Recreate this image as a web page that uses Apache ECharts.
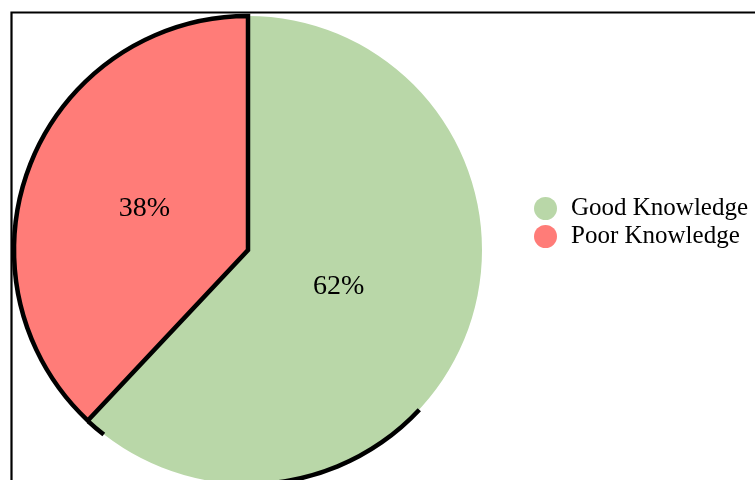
<!DOCTYPE html>
<html>
<head>
<meta charset="utf-8">
<script src="https://cdn.jsdelivr.net/npm/echarts@6/dist/echarts.min.js"></script>
<style>html,body{margin:0;padding:0;background:#fff}#c{width:755px;height:480px}</style>
</head>
<body>
<div id="c"></div>
<script>
const categories = ['Good Knowledge', 'Poor Knowledge'];
const percentages = [62, 38];
const sliceColors = ['#B9D7A8', '#FF7C78'];
// partial dark outline pieces along the rim, in degrees clockwise from the top
const outlineSegments = [133, 49, 36, 5, 137];
const outlineVisible = [false, true, false, true, false];
const labelOffsets = [[-21, -8], [8, 3]];

const chart = echarts.init(document.getElementById('c'));
const serif = '"Liberation Serif", "Times New Roman", serif';
chart.setOption({
  animation: false,
  graphic: [{
    type: 'rect', left: 9, top: 10, silent: true,
    shape: { width: 800, height: 520 },
    style: { fill: 'none', stroke: '#000', lineWidth: 2.2 }
  }],
  legend: {
    orient: 'vertical', left: 529, top: 191,
    itemWidth: 23, itemHeight: 23, itemGap: 3, icon: 'circle',
    data: categories,
    itemStyle: { borderWidth: 0 },
    textStyle: { fontFamily: serif, fontSize: 25, color: '#000', padding: [0, 0, 0, 9] }
  },
  series: [{
    type: 'pie',
    center: [248, 250], radius: [0, 234],
    startAngle: 90, clockwise: true,
    label: { show: true, position: 'inside', formatter: '{c}%', fontFamily: serif, fontSize: 28, color: '#000' },
    labelLine: { show: false },
    emphasis: { disabled: true },
    data: categories.map((n, i) => ({
      name: n, value: percentages[i],
      label: { offset: labelOffsets[i] },
      itemStyle: i === 1
        ? { color: sliceColors[i], borderColor: '#000', borderWidth: 4.5, borderJoin: 'miter' }
        : { color: sliceColors[i], borderWidth: 0 }
    }))
  }, {
    type: 'pie',
    center: [248, 250], radius: [232, 236.5],
    startAngle: 90, clockwise: true, silent: true,
    label: { show: false }, labelLine: { show: false },
    legendHoverLink: false,
    emphasis: { disabled: true },
    data: outlineSegments.map((v, i) => ({
      name: 'seg' + i, value: v,
      itemStyle: { color: outlineVisible[i] ? '#000' : 'rgba(0,0,0,0)', borderWidth: 0 }
    }))
  }]
});
</script>
</body>
</html>
